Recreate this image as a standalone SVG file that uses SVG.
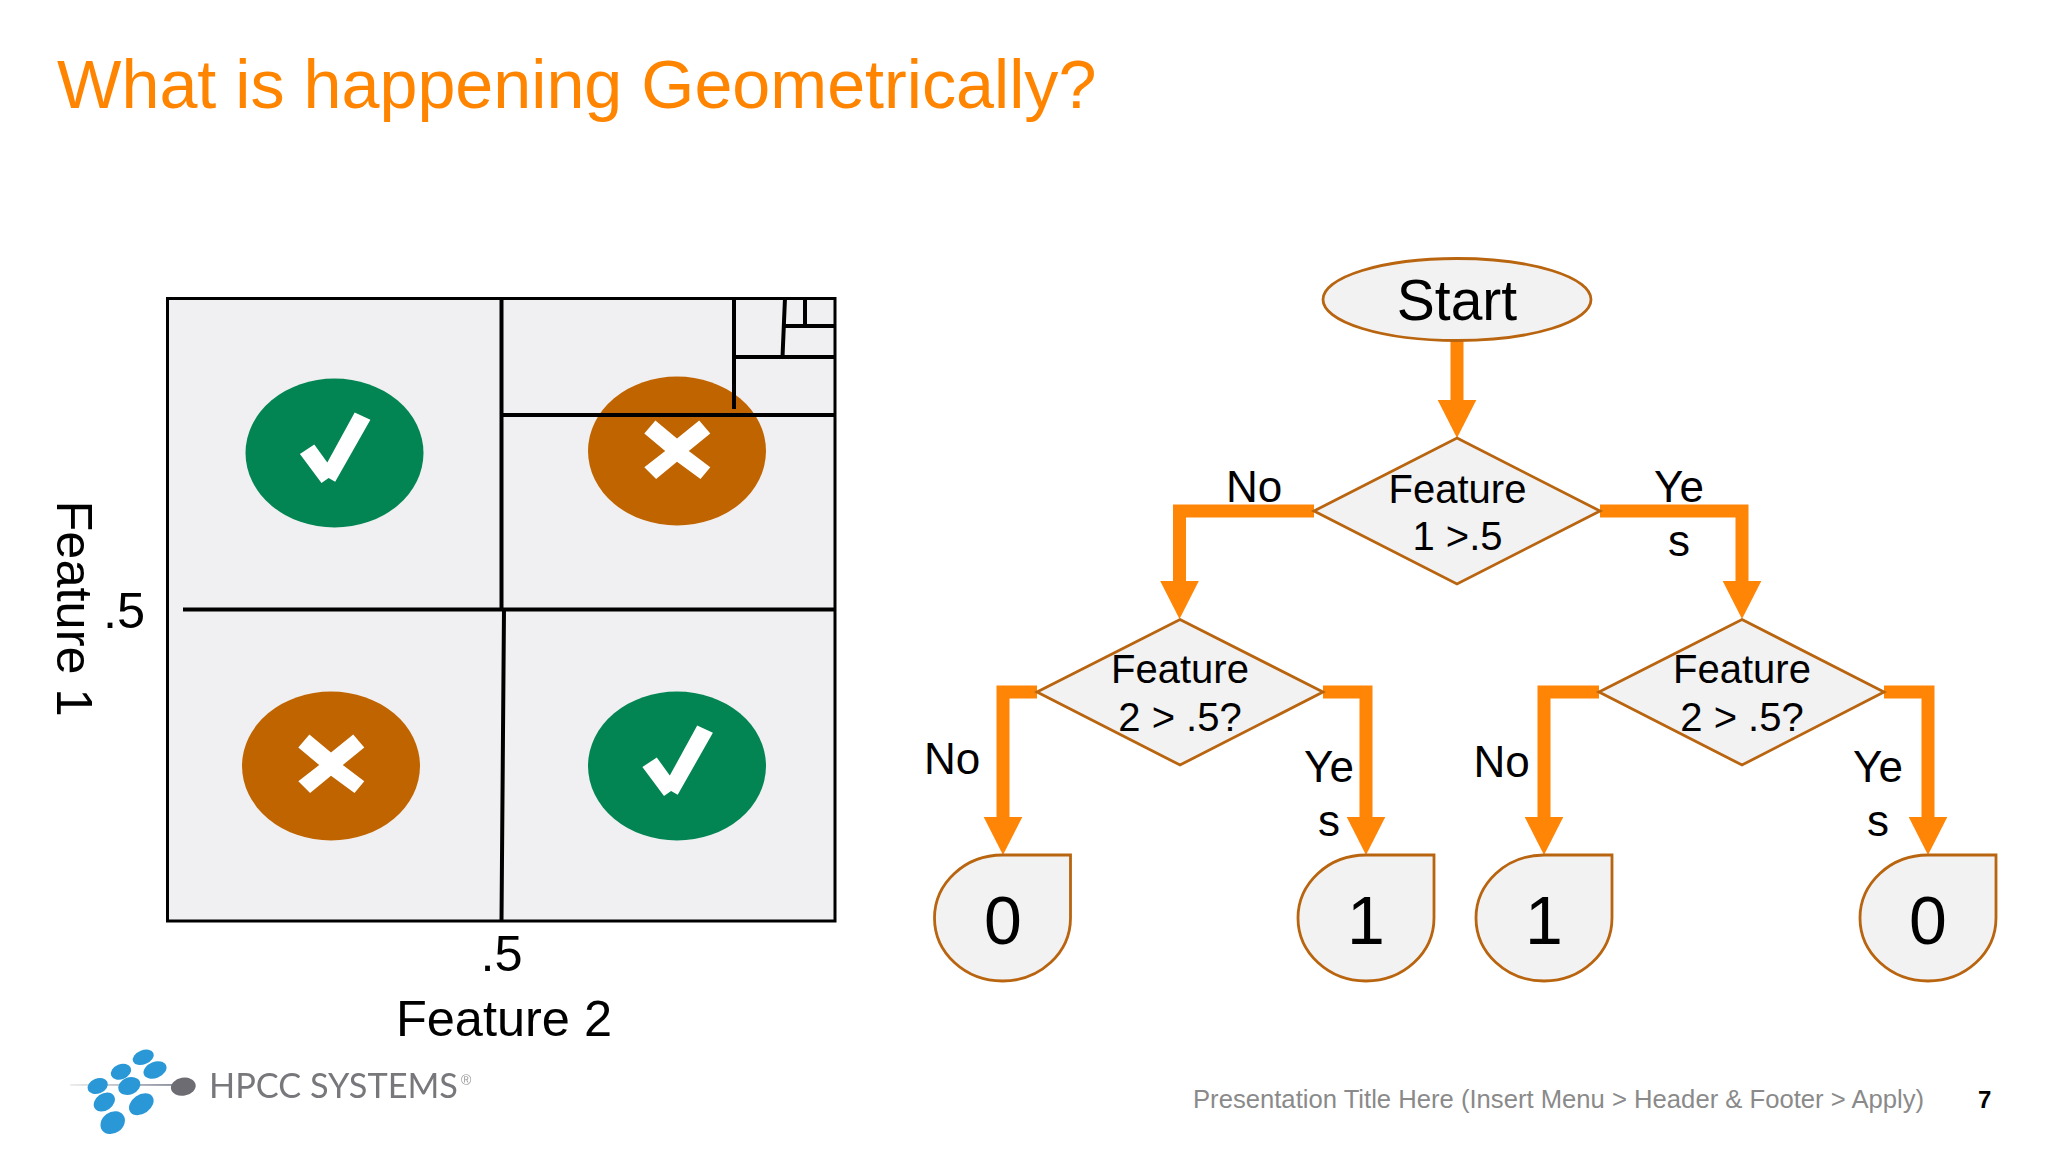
<svg xmlns="http://www.w3.org/2000/svg" width="2048" height="1152" viewBox="0 0 2048 1152">
<style>
text{font-family:"Liberation Sans",Arial,sans-serif;fill:#000}
.m{text-anchor:middle}
.title{font-size:68.250px;fill:#ff8400}
.ax{font-size:50.500px}
.lbl{font-size:44px;text-anchor:middle}
.dt{font-size:40px;text-anchor:middle}
.leaf{font-size:68px;text-anchor:middle}
.node{fill:#f2f2f3;stroke:#b9640f;stroke-width:2.8}
.grid{stroke:#000;stroke-width:4;fill:none}
.flow{fill:none;stroke:#ff8507;stroke-width:13;stroke-linejoin:miter}
.head{fill:#ff8507}
.g{fill:#038553}.o{fill:#c06400}
.w{fill:#fff}
.b{fill:#2b98d6}
</style>
<defs>
<polygon id="chk" class="w" points="-34.6,1 -20.2,-8.5 -7.2,9.6 20.2,-40.5 35.9,-33.2 0.7,28.7 -5.9,25 -13,30"/>
<polygon id="xm" class="w" points="-21.6,-29.4 0,-11.4 22.2,-29.4 33.3,-16.5 11.8,1 33.3,17.3 23.5,29 0,11.8 -20.9,29 -32.7,17.3 -11.8,1 -32.7,-16.5"/>
<polygon id="ah" class="head" points="-19.3,-38 19.3,-38 0,0"/>
<linearGradient id="fade" x1="70" y1="0" x2="175" y2="0" gradientUnits="userSpaceOnUse"><stop offset="0" stop-color="#e8e8e8"/><stop offset="1" stop-color="#6f7486"/></linearGradient>
<filter id="soft" x="-5%" y="-5%" width="110%" height="110%"><feGaussianBlur stdDeviation="0.6"/></filter>
</defs>
<text class="title" x="57" y="108">What is happening Geometrically?</text>

<g id="plot">
<rect x="167.500" y="298.500" width="667.500" height="622.500" fill="#f0f0f2" stroke="#000" stroke-width="3"/>
<ellipse class="g" cx="334.500" cy="453" rx="89" ry="74.500"/>
<use href="#chk" x="334.500" y="453"/>
<ellipse class="o" cx="677" cy="451" rx="89" ry="74.500"/>
<use href="#xm" x="677" y="450"/>
<ellipse class="o" cx="331" cy="766" rx="89" ry="74.500"/>
<use href="#xm" x="331" y="764"/>
<ellipse class="g" cx="677" cy="766" rx="89" ry="74.500"/>
<use href="#chk" x="677" y="766"/>
<path class="grid" d="M501.500 298V609M183 609.500H835M504 609L501.500 921M501.500 415H835M734 298V409M734 357H835M785 298L782.500 357M782 326H835M805 298V326"/>
<text class="ax" transform="translate(57 500.500) rotate(90)">Feature 1</text>
<text class="ax" x="103" y="628">.5</text>
<text class="ax m" x="501.500" y="971">.5</text>
<text class="ax m" x="504" y="1035.500">Feature 2</text>
</g>

<g id="connectors">
<path class="flow" d="M1457 341V402"/><use href="#ah" x="1457" y="438"/>
<path class="flow" d="M1314 511H1179.500V582"/><use href="#ah" x="1179.500" y="619"/>
<path class="flow" d="M1600 511H1742V582"/><use href="#ah" x="1742" y="619"/>
<path class="flow" d="M1037 692H1003V818"/><use href="#ah" x="1003" y="855"/>
<path class="flow" d="M1323 692H1366V818"/><use href="#ah" x="1366" y="855"/>
<path class="flow" d="M1599 692H1544V818"/><use href="#ah" x="1544" y="855"/>
<path class="flow" d="M1884 692H1928V818"/><use href="#ah" x="1928" y="855"/>
<text class="lbl" x="1254" y="502">No</text>
<text class="lbl" x="1679" y="502">Ye</text>
<text class="lbl" x="1679" y="556">s</text>
<text class="lbl" x="952" y="774">No</text>
<text class="lbl" x="1329" y="782">Ye</text>
<text class="lbl" x="1329" y="836">s</text>
<text class="lbl" x="1501.500" y="777">No</text>
<text class="lbl" x="1878" y="782">Ye</text>
<text class="lbl" x="1878" y="836">s</text>
</g>

<g id="start">
<ellipse class="node" cx="1457" cy="299.500" rx="134" ry="41"/>
<text class="m" font-size="57" x="1457" y="320">Start</text>
</g>
<g id="d1">
<polygon class="node" points="1457,438 1600,511 1457,584 1314,511"/>
<text class="dt" x="1457.500" y="503">Feature</text>
<text class="dt" x="1457.500" y="550">1 &gt;.5</text>
</g>
<g id="d2">
<polygon class="node" points="1180,619.500 1323,692 1180,765 1037,692"/>
<text class="dt" x="1180" y="683">Feature</text>
<text class="dt" x="1180" y="730.500">2 &gt; .5?</text>
</g>
<g id="d3">
<polygon class="node" points="1742,619.500 1884,692 1742,765 1599,692"/>
<text class="dt" x="1742" y="683">Feature</text>
<text class="dt" x="1742" y="730.500">2 &gt; .5?</text>
</g>
<g id="leaf1">
<path class="node" d="M1002.500 855H1070.500V918A68 63 0 1 1 1002.500 855Z"/>
<text class="leaf" x="1003" y="944">0</text>
</g>
<g id="leaf2">
<path class="node" d="M1366 855H1434V918A68 63 0 1 1 1366 855Z"/>
<text class="leaf" x="1366" y="944">1</text>
</g>
<g id="leaf3">
<path class="node" d="M1544 855H1612V918A68 63 0 1 1 1544 855Z"/>
<text class="leaf" x="1544" y="944">1</text>
</g>
<g id="leaf4">
<path class="node" d="M1928 855H1996V918A68 63 0 1 1 1928 855Z"/>
<text class="leaf" x="1928" y="944">0</text>
</g>

<g id="logo" filter="url(#soft)">
<rect x="70" y="1084.200" width="105" height="1.500" fill="url(#fade)"/>
<ellipse class="b" cx="143.300" cy="1057.300" rx="11" ry="7" transform="rotate(-22 143.300 1057.300)"/>
<ellipse class="b" cx="121" cy="1071.700" rx="10.500" ry="7.500" transform="rotate(-22 121 1071.700)"/>
<ellipse class="b" cx="155" cy="1070" rx="12" ry="8" transform="rotate(-22 155 1070)"/>
<ellipse class="b" cx="97.700" cy="1086" rx="10.500" ry="7.500" transform="rotate(-22 97.700 1086)"/>
<ellipse class="b" cx="129.300" cy="1086" rx="11.500" ry="8.500" transform="rotate(-22 129.300 1086)"/>
<ellipse class="b" cx="104.300" cy="1102" rx="11.500" ry="8.500" transform="rotate(-35 104.300 1102)"/>
<ellipse class="b" cx="141.300" cy="1104.300" rx="13.500" ry="9.500" transform="rotate(-35 141.300 1104.300)"/>
<ellipse class="b" cx="112.700" cy="1122.700" rx="13" ry="10.500" transform="rotate(-35 112.700 1122.700)"/>
<ellipse fill="#6c6c72" cx="183.300" cy="1086.700" rx="12.500" ry="9" transform="rotate(-10 183.300 1086.700)"/>
<text x="209" y="1098" font-size="35" style="font-family:Lato,'Open Sans',sans-serif;fill:#77777b" textLength="249" lengthAdjust="spacingAndGlyphs">HPCC SYSTEMS</text>
<text x="461" y="1085" font-size="14" style="fill:#999">®</text>
</g>

<text x="1193" y="1107.500" font-size="25.650" style="fill:#8a8a8a">Presentation Title Here (Insert Menu &gt; Header &amp; Footer &gt; Apply)</text>
<text x="1978" y="1107.500" font-size="24" font-weight="700">7</text>
</svg>
